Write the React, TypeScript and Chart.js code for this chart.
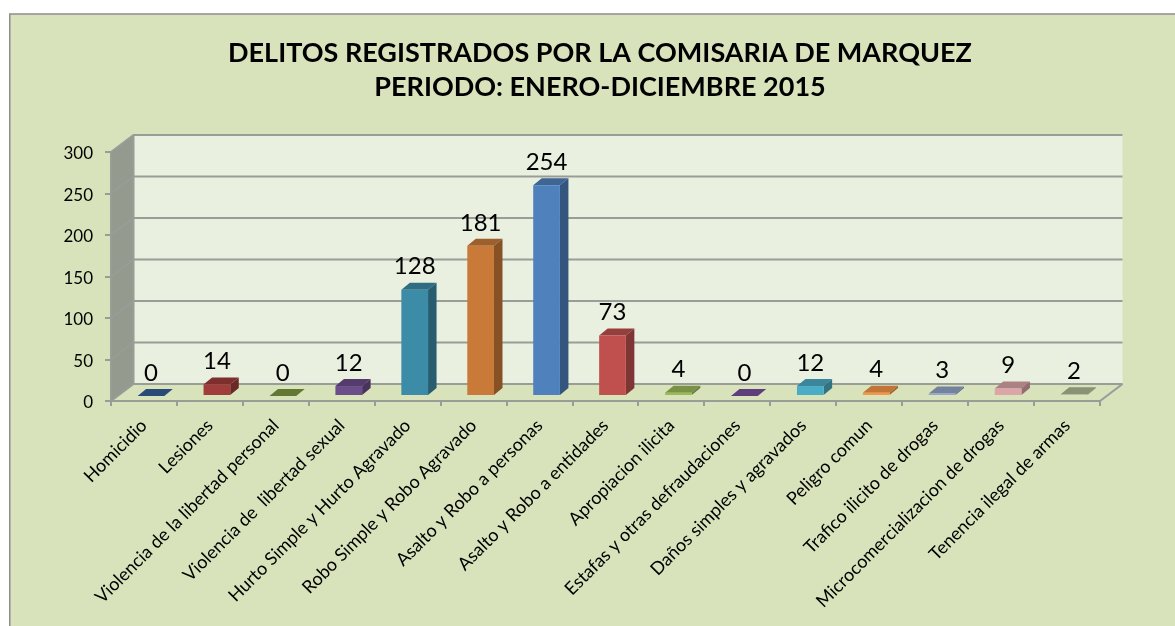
import React, { useEffect, useRef } from "react";
import { Chart, registerables } from "chart.js";

Chart.register(...registerables);

const categories = [
  "Homicidio",
  "Lesiones",
  "Violencia de la libertad personal",
  "Violencia de  libertad sexual",
  "Hurto Simple y Hurto Agravado",
  "Robo Simple y Robo Agravado",
  "Asalto y Robo a personas",
  "Asalto y Robo a entidades",
  "Apropiacion ilicita",
  "Estafas y otras defraudaciones",
  "Daños simples y agravados",
  "Peligro comun",
  "Trafico ilicito de drogas",
  "Microcomercializacion de drogas",
  "Tenencia ilegal de armas",
];
const values = [0, 14, 0, 12, 128, 181, 254, 73, 4, 0, 12, 4, 3, 9, 2];
const frontColors = [
  "#36609a", "#a03c3a", "#7d9a42", "#6b4d8a", "#3c8ca8",
  "#c97a38", "#4f81bd", "#c0504d", "#9bbb59", "#7a4f9e",
  "#4bacc6", "#f79646", "#95a7cc", "#dda5a8", "#b0bb96",
];
const titleLines = [
  "DELITOS REGISTRADOS POR LA COMISARIA DE MARQUEZ",
  "PERIODO: ENERO-DICIEMBRE 2015",
];

const FONT = "Lato";
const DEPTH_X = 22.5;
const DEPTH_Y = -17;
const BAR_SHIFT_X = 7;
const BAR_SHIFT_Y = -5;
const BAR_DX = 8.5;
const BAR_DY = -7;
const LINE = "#999c97";

function shade(hex: string, f: number) {
  const n = parseInt(hex.slice(1), 16);
  const c = [(n >> 16) & 255, (n >> 8) & 255, n & 255].map((v) => Math.round(v * f));
  return `rgb(${c[0]},${c[1]},${c[2]})`;
}

function poly(ctx: CanvasRenderingContext2D, pts: number[][], fill?: string) {
  ctx.beginPath();
  pts.forEach((p, i) => (i ? ctx.lineTo(p[0], p[1]) : ctx.moveTo(p[0], p[1])));
  ctx.closePath();
  if (fill) {
    ctx.fillStyle = fill;
    ctx.fill();
  }
}

const scenePlugin = {
  id: "scene3d",
  beforeDraw(chart: any) {
    const { ctx, width, height } = chart;
    ctx.save();
    ctx.fillStyle = "#ffffff";
    ctx.fillRect(0, 0, width, height);
    ctx.fillStyle = "#d8e3bc";
    ctx.fillRect(9.5, 14, width, height);
    ctx.strokeStyle = "#8e8e8e";
    ctx.lineWidth = 1.5;
    ctx.beginPath();
    ctx.moveTo(9.75, height);
    ctx.lineTo(9.75, 14);
    ctx.lineTo(width, 14);
    ctx.stroke();
    ctx.restore();
  },
  beforeDatasetsDraw(chart: any) {
    const { ctx, chartArea: a, scales } = chart;
    const y = scales.y;
    const L = a.left, R = a.right, T = a.top, B = a.bottom;
    ctx.save();
    poly(ctx, [[L + DEPTH_X, T + DEPTH_Y], [R + DEPTH_X, T + DEPTH_Y], [R + DEPTH_X, B + DEPTH_Y], [L + DEPTH_X, B + DEPTH_Y]], "#e9f0df");
    poly(ctx, [[L, T], [L + DEPTH_X, T + DEPTH_Y], [L + DEPTH_X, B + DEPTH_Y], [L, B]], "#959a8f");
    poly(ctx, [[L, B], [R, B], [R + DEPTH_X, B + DEPTH_Y], [L + DEPTH_X, B + DEPTH_Y]], "#d8e3bc");
    ctx.strokeStyle = LINE;
    ctx.lineWidth = 2;
    for (const t of y.ticks) {
      const py = y.getPixelForValue(t.value);
      ctx.beginPath();
      ctx.moveTo(L, py);
      ctx.lineTo(L + DEPTH_X, py + DEPTH_Y);
      ctx.lineTo(R + DEPTH_X, py + DEPTH_Y);
      ctx.stroke();
    }
    ctx.beginPath();
    ctx.moveTo(L, T);
    ctx.lineTo(L, B);
    ctx.lineTo(R, B);
    ctx.lineTo(R + DEPTH_X, B + DEPTH_Y);
    ctx.moveTo(L + DEPTH_X, T + DEPTH_Y);
    ctx.lineTo(L + DEPTH_X, B + DEPTH_Y);
    ctx.stroke();
    ctx.restore();
  },
  beforeDatasetDraw(chart: any, args: any) {
    const { ctx } = chart;
    ctx.save();
    ctx.translate(BAR_SHIFT_X, BAR_SHIFT_Y);
    args.meta.data.forEach((el: any, i: number) => {
      const l = el.x - el.width / 2;
      const r = el.x + el.width / 2;
      const c = frontColors[i];
      poly(ctx, [[l, el.y], [r, el.y], [r + BAR_DX, el.y + BAR_DY], [l + BAR_DX, el.y + BAR_DY]], shade(c, 0.78));
      poly(ctx, [[r, el.y], [r + BAR_DX, el.y + BAR_DY], [r + BAR_DX, el.base + BAR_DY], [r, el.base]], shade(c, 0.66));
    });
  },
  afterDatasetDraw(chart: any) {
    chart.ctx.restore();
  },
  afterDatasetsDraw(chart: any) {
    const { ctx } = chart;
    const meta = chart.getDatasetMeta(0);
    ctx.save();
    ctx.fillStyle = "#000000";
    ctx.font = `24px ${FONT}`;
    ctx.textAlign = "center";
    ctx.textBaseline = "middle";
    meta.data.forEach((el: any, i: number) => {
      ctx.fillText(String(values[i]), el.x + BAR_SHIFT_X, el.y + BAR_SHIFT_Y + BAR_DY - 16);
    });
    ctx.restore();
  },
};

export default function App() {
  const ref = useRef<HTMLCanvasElement>(null);
  useEffect(() => {
    const chart = new Chart(ref.current as HTMLCanvasElement, {
      type: "bar",
      data: {
        labels: categories,
        datasets: [
          {
            data: values,
            backgroundColor: frontColors,
            barPercentage: 0.405,
            categoryPercentage: 1,
            clip: false,
          } as any,
        ],
      },
      plugins: [scenePlugin],
      options: {
        responsive: false,
        animation: false,
        layout: { padding: { left: 25, right: 0, top: 0, bottom: 0 } },
        plugins: {
          legend: { display: false },
          tooltip: { enabled: false },
          title: {
            display: true,
            text: titleLines,
            color: "#000000",
            font: { family: FONT, size: 27, weight: "bold", lineHeight: 34 / 27 },
            padding: { top: 36, bottom: 48 },
          },
        },
        scales: {
          x: {
            offset: true,
            border: { display: false },
            grid: { drawOnChartArea: false, drawTicks: true, tickLength: 5, color: LINE, lineWidth: 2, offset: true },
            ticks: {
              minRotation: 45,
              maxRotation: 45,
              autoSkip: false,
              padding: 9,
              color: "#000000",
              font: { family: FONT, size: 18 },
            },
            afterFit(s: any) {
              s.height = 225;
            },
          },
          y: {
            min: 0,
            max: 300,
            border: { display: false },
            grid: { drawOnChartArea: false, drawTicks: true, tickLength: 6, color: LINE, lineWidth: 2 },
            ticks: { stepSize: 50, padding: 12, labelOffset: 2, color: "#000000", font: { family: FONT, size: 17 } },
            afterFit(s: any) {
              s.width = 86;
            },
          },
          yRightGap: {
            type: "linear",
            position: "right",
            border: { display: false },
            grid: { display: false },
            ticks: { display: false },
            afterFit(s: any) {
              s.width = 75;
            },
          },
        },
      } as any,
    });
    return () => chart.destroy();
  }, []);
  return (
    <div style={{ position: "absolute", left: 0, top: 0, width: 1175, height: 626, overflow: "hidden" }}>
      <canvas ref={ref} width={1175} height={626} style={{ display: "block" }} />
    </div>
  );
}
